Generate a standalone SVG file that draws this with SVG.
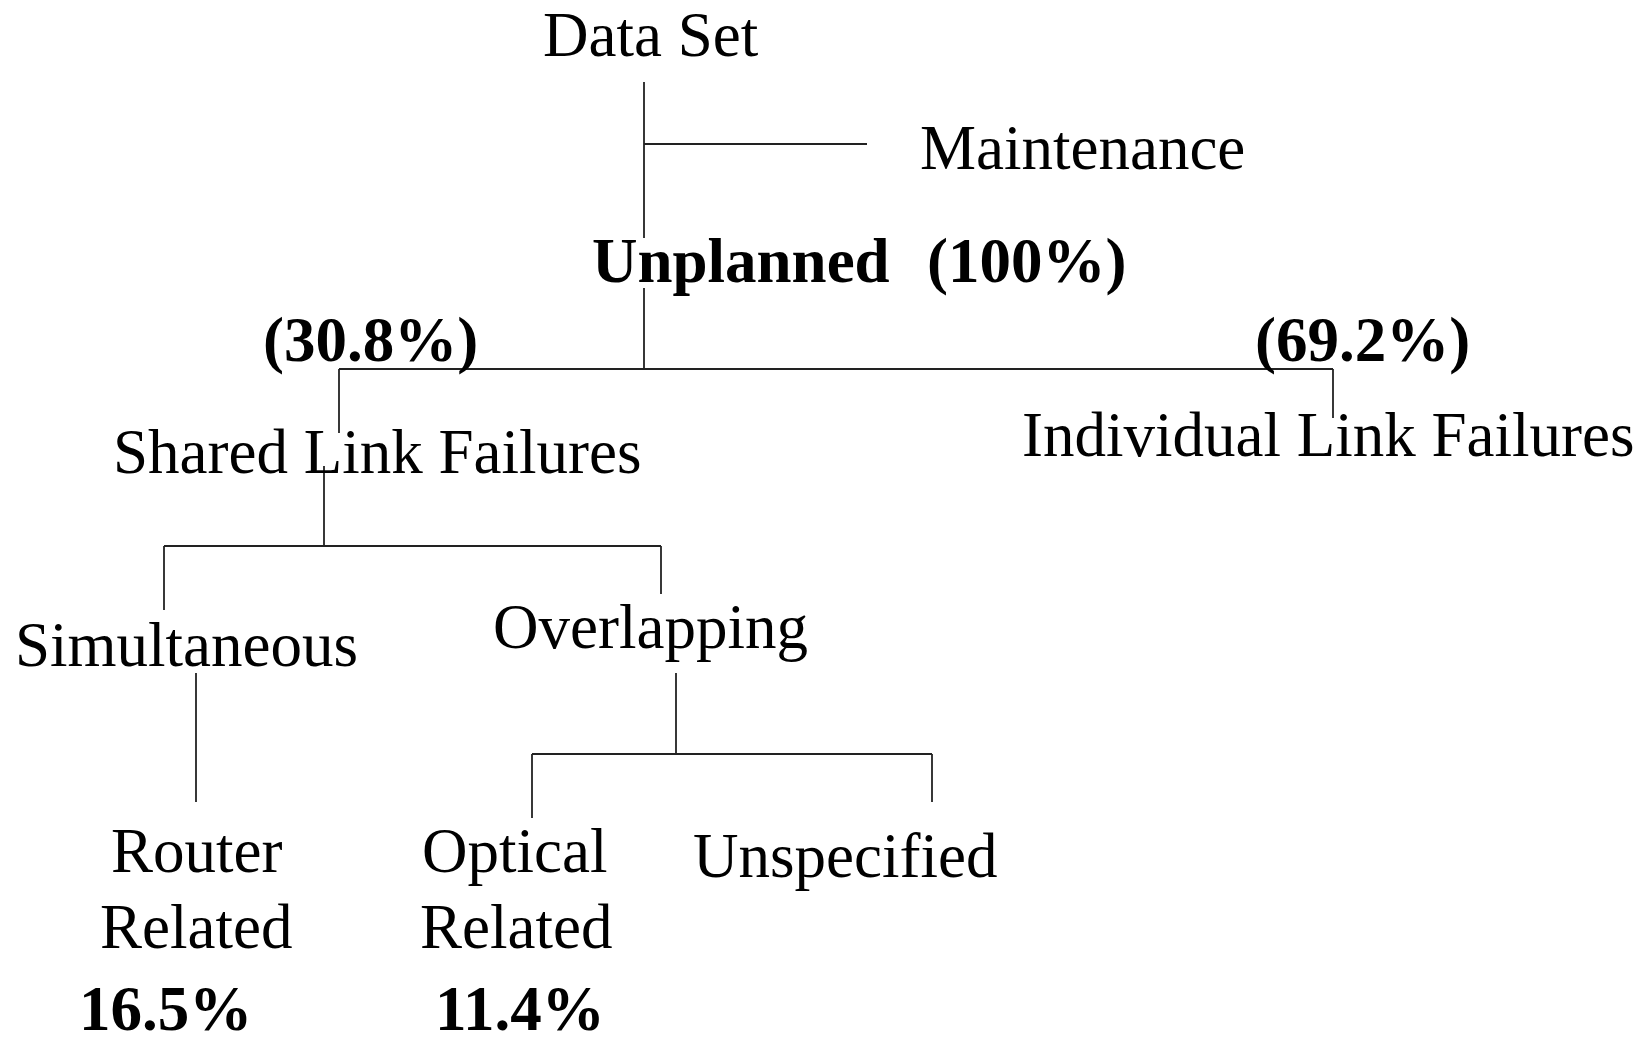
<svg xmlns="http://www.w3.org/2000/svg" width="1652" height="1039" viewBox="0 0 1652 1039">
<style>
.t{font-family:"Liberation Serif","Times New Roman",serif;font-size:63px;fill:#000}
.b{font-weight:bold}
.c{stroke:#222;stroke-width:1.8;fill:none}
</style>
<rect width="1652" height="1039" fill="#fff"/>
<g id="connectors" class="c">
<path d="M644,82V238M644,288V369"/>
<path d="M644,144H867"/>
<path d="M339,369H1333"/>
<path d="M339,369V433"/>
<path d="M1333,369V418"/>
<path d="M324,466V546"/>
<path d="M164,546H661"/>
<path d="M164,546V610"/>
<path d="M661,546V594"/>
<path d="M196,673V802"/>
<path d="M676,673V754"/>
<path d="M532,754H932"/>
<path d="M532,754V818"/>
<path d="M932,754V802"/>
</g>
<g id="dataset"><text class="t" x="543" y="56">Data Set</text></g>
<g id="maintenance"><text class="t" x="920" y="169">Maintenance</text></g>
<g id="unplanned"><text class="t b" x="592" y="282">Unplanned</text><text class="t b" x="927" y="282">(100%)</text></g>
<g id="shared-pct"><text class="t b" x="263" y="361">(30.8%)</text></g>
<g id="individual-pct"><text class="t b" x="1255" y="361">(69.2%)</text></g>
<g id="shared"><text class="t" x="113" y="473">Shared Link Failures</text></g>
<g id="individual"><text class="t" x="1022" y="456">Individual Link Failures</text></g>
<g id="simultaneous"><text class="t" x="15" y="666">Simultaneous</text></g>
<g id="overlapping"><text class="t" x="493" y="648">Overlapping</text></g>
<g id="router"><text class="t" x="111" y="872">Router</text><text class="t" x="100" y="948">Related</text><text class="t b" x="79" y="1030">16.5%</text></g>
<g id="optical"><text class="t" x="422" y="872">Optical</text><text class="t" x="420" y="948">Related</text><text class="t b" x="435" y="1030">11.4%</text></g>
<g id="unspecified"><text class="t" x="693" y="877">Unspecified</text></g>
</svg>
